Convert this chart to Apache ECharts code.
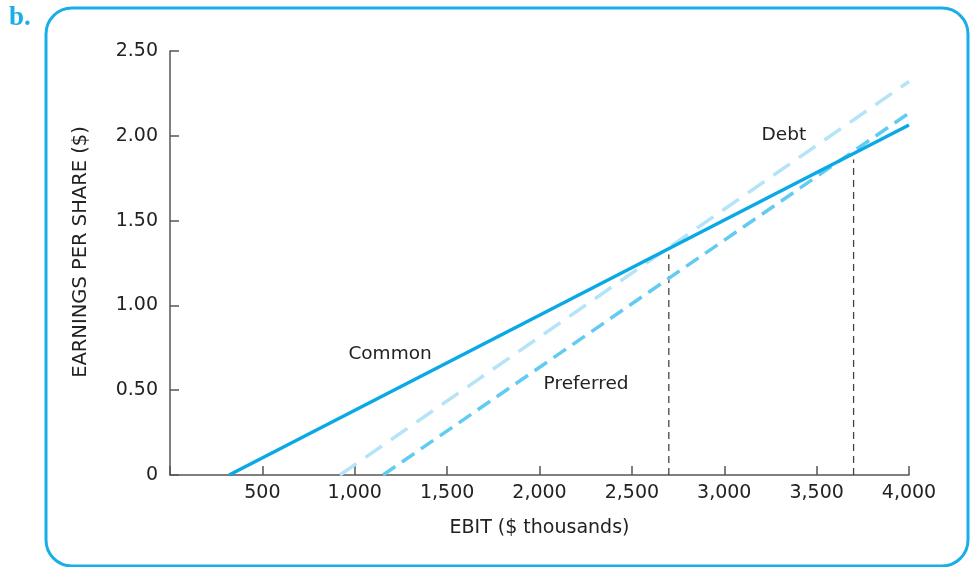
<!DOCTYPE html>
<html>
<head>
<meta charset="utf-8">
<script src="https://cdn.jsdelivr.net/npm/echarts@6/dist/echarts.min.js"></script>
<style>html,body{margin:0;padding:0;background:#fff;}#c{width:973px;height:567px;}</style>
</head>
<body>
<div id="c"></div>
<script>
// EBIT ($ thousands) vs EPS ($)
var commonLine = [[320, 0], [4000, 2.064]];
var debtLine = [[920, 0], [4000, 2.32]];
var preferredLine = [[1153, 0], [4000, 2.134]];
var indiff1 = [[2700, 0], [2700, 1.30]];
var indiff2 = [[3700, 0], [3700, 1.86]];
var labelNames = ['Common', 'Preferred', 'Debt'];
var labelX = [1191, 2252, 3323];
var labelY = [0.713, 0.537, 2.005];
var yTicks = [0, 0.5, 1.0, 1.5, 2.0, 2.5];
var xTickLabels = ['', '500', '1,000', '1,500', '2,000', '2,500', '3,000', '3,500', '4,000'];

var font = 'DejaVu Sans';
var textColor = '#222';
var chart = echarts.init(document.getElementById('c'));
var labelData = labelNames.map(function (n, i) { return { value: [labelX[i], labelY[i]], name: n }; });

chart.setOption({
  animation: false,
  backgroundColor: '#fff',
  grid: { left: 170, right: 64, top: 51, bottom: 92 },
  graphic: [
    { type: 'rect', shape: { x: 46, y: 8, width: 922, height: 558, r: 26 },
      style: { fill: 'none', stroke: '#1aaee8', lineWidth: 3 }, z: -1 },
    { type: 'text', left: 9, top: 5,
      style: { text: 'b.', fill: '#1aaee8', font: 'bold 27px "Liberation Serif"' } }
  ],
  xAxis: {
    type: 'value', min: 0, max: 4000, interval: 500,
    name: 'EBIT ($ thousands)', nameLocation: 'middle', nameGap: 44,
    nameTextStyle: { fontFamily: font, fontSize: 19, color: textColor },
    axisLine: { show: true, lineStyle: { color: '#555', width: 1.5 } },
    axisTick: { show: true, inside: true, length: 9, lineStyle: { color: '#555', width: 1.5 } },
    axisLabel: { fontFamily: font, fontSize: 19, color: textColor, margin: 9,
      formatter: function (v) { return xTickLabels[Math.round(v / 500)]; } },
    splitLine: { show: false }
  },
  yAxis: {
    type: 'value', min: 0, max: 2.5, interval: 0.5,
    name: 'EARNINGS PER SHARE ($)', nameLocation: 'middle', nameGap: 79, nameRotate: 90,
    nameTextStyle: { fontFamily: font, fontSize: 19.5, color: textColor, padding: [0, 0, 0, 22] },
    axisLine: { show: true, lineStyle: { color: '#555', width: 1.5 } },
    axisTick: { show: true, inside: true, length: 9, lineStyle: { color: '#555', width: 1.5 } },
    axisLabel: { fontFamily: font, fontSize: 19, color: textColor, margin: 12,
      formatter: function (v) { return v === 0 ? '0' : v.toFixed(2); } },
    splitLine: { show: false }
  },
  series: [
    { type: 'line', data: indiff1, symbol: 'none', z: 1,
      lineStyle: { color: '#444', width: 1.3, type: [7, 5] } },
    { type: 'line', data: indiff2, symbol: 'none', z: 1,
      lineStyle: { color: '#444', width: 1.3, type: [7, 5] } },
    { name: 'Debt', type: 'line', data: debtLine, symbol: 'none', z: 2,
      lineStyle: { color: '#b5e4f8', width: 3.5, type: [20, 11] } },
    { name: 'Preferred', type: 'line', data: preferredLine, symbol: 'none', z: 3,
      lineStyle: { color: '#62cbf1', width: 3.5, type: [15, 8] } },
    { name: 'Common', type: 'line', data: commonLine, symbol: 'none', z: 4,
      lineStyle: { color: '#0aa9e6', width: 3.4 } },
    { type: 'scatter', data: labelData, symbolSize: 0, z: 5,
      itemStyle: { opacity: 1 },
      label: { show: true, position: 'inside', formatter: '{b}', opacity: 1,
        fontFamily: font, fontSize: 18.5, color: textColor } }
  ]
});
</script>
</body>
</html>
